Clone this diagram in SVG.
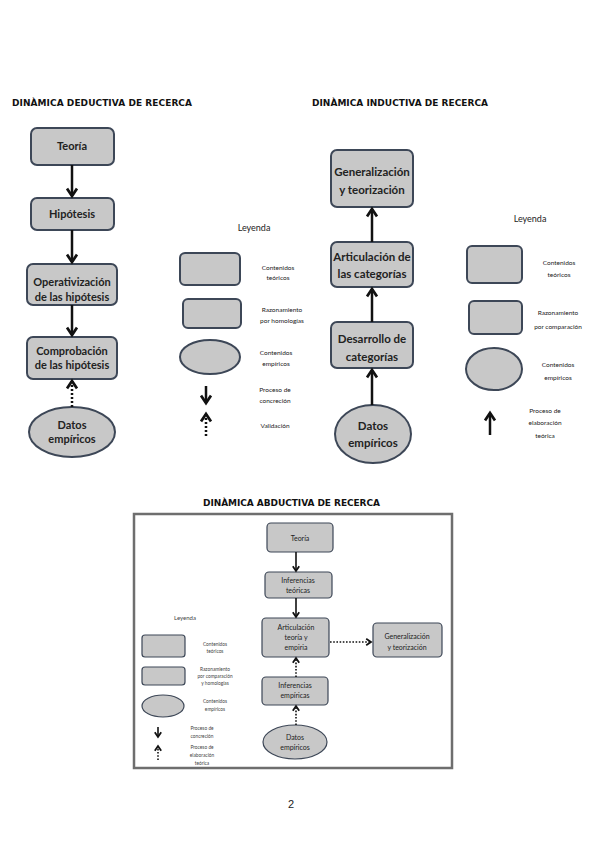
<svg xmlns="http://www.w3.org/2000/svg" width="600" height="848" viewBox="0 0 600 848">
<defs>
<style>
.title{font-family:"DejaVu Sans",sans-serif;font-weight:bold;font-size:9px;fill:#111}
.box{fill:#c8c8c8;stroke:#3d4757;stroke-width:2}
.sbox{fill:#c8c8c8;stroke:#3d4757;stroke-width:1.2}
.nt{font-family:Lato,"Liberation Sans",sans-serif;font-weight:bold;font-size:11px;fill:#222;text-anchor:middle}
.nt2{font-family:Lato,"Liberation Sans",sans-serif;font-weight:bold;font-size:11.5px;fill:#222;text-anchor:middle}
.st{font-family:Lato,"Liberation Sans",sans-serif;font-size:7px;fill:#222;text-anchor:middle}
.lt{font-family:Lato,"Liberation Sans",sans-serif;font-size:6.5px;fill:#222;text-anchor:middle}
.lg{font-family:Lato,"Liberation Sans",sans-serif;font-size:9px;fill:#222;text-anchor:middle}
.lts{font-family:Lato,"Liberation Sans",sans-serif;font-size:4.8px;fill:#444;text-anchor:middle}
.ar{stroke:#111;stroke-width:2.5;fill:none}
.ars{stroke:#111;stroke-width:1.6;fill:none}
.dot{stroke:#111;stroke-width:2.5;fill:none;stroke-dasharray:2 2}
.dots{stroke:#111;stroke-width:1.6;fill:none;stroke-dasharray:1.6 1.6}
</style>
<marker id="ah" viewBox="0 0 10 10" refX="7" refY="5" markerWidth="5" markerHeight="5" orient="auto" markerUnits="strokeWidth">
<path d="M1,1 L7,5 L1,9" fill="none" stroke="#111" stroke-width="2.2"/>
</marker>
</defs>
<rect width="600" height="848" fill="#fff"/>

<!-- Deductive -->
<text class="title" x="12" y="106" textLength="180" lengthAdjust="spacing">DINÀMICA DEDUCTIVA DE RECERCA</text>
<g id="d-teoria"><rect class="box" x="31" y="128" width="83" height="37" rx="6"/><text class="nt" x="72" y="150">Teoría</text></g>
<g id="d-hipotesis"><rect class="box" x="31" y="198" width="83" height="32" rx="6"/><text class="nt" x="72" y="218">Hipótesis</text></g>
<g id="d-operat"><rect class="box" x="27" y="264" width="90" height="41" rx="6"/><text class="nt" x="72" y="286">Operativización</text><text class="nt" x="72" y="301">de las hipótesis</text></g>
<g id="d-comprob"><rect class="box" x="27" y="337" width="90" height="42" rx="6"/><text class="nt" x="72" y="355">Comprobación</text><text class="nt" x="72" y="369">de las hipótesis</text></g>
<g id="d-datos"><ellipse class="box" cx="72" cy="432" rx="43" ry="25"/><text class="nt" x="72" y="429">Datos</text><text class="nt" x="72" y="443">empíricos</text></g>

<g id="d-legend">
<text class="lg" x="254" y="231">Leyenda</text>
<rect class="box" x="180" y="253" width="60" height="32" rx="5"/>
<text class="lt" x="278" y="270">Contenidos</text><text class="lt" x="278" y="280">teóricos</text>
<rect class="box" x="183" y="299" width="58" height="29" rx="5"/>
<text class="lt" x="282" y="312">Razonamiento</text><text class="lt" x="282" y="323">por homologías</text>
<ellipse class="box" cx="210" cy="357" rx="30" ry="17"/>
<text class="lt" x="276" y="355">Contenidos</text><text class="lt" x="276" y="366">empíricos</text>
<line class="ar" x1="206" y1="386" x2="206" y2="403" marker-end="url(#ah)"/>
<text class="lt" x="275" y="392">Proceso de</text><text class="lt" x="275" y="403">concreción</text>
<line class="dot" x1="206" y1="436" x2="206" y2="414" marker-end="url(#ah)"/>
<text class="lt" x="275" y="428">Validación</text>
</g>

<!-- Inductive -->
<text class="title" x="312" y="106" textLength="176" lengthAdjust="spacing">DINÀMICA INDUCTIVA DE RECERCA</text>
<g id="i-general"><rect class="box" x="331" y="150" width="82" height="57" rx="6"/><text class="nt2" x="372" y="176">Generalización</text><text class="nt2" x="372" y="194">y teorización</text></g>
<g id="i-artic"><rect class="box" x="331" y="242" width="82" height="45" rx="6"/><text class="nt2" x="372" y="261">Articulación de</text><text class="nt2" x="372" y="278">las categorías</text></g>
<g id="i-desarr"><rect class="box" x="331" y="322" width="82" height="46" rx="6"/><text class="nt2" x="372" y="343">Desarrollo de</text><text class="nt2" x="372" y="361">categorías</text></g>
<g id="i-datos"><ellipse class="box" cx="373" cy="434" rx="38" ry="29"/><text class="nt2" x="373" y="430">Datos</text><text class="nt2" x="373" y="447">empíricos</text></g>

<g id="i-legend">
<text class="lg" x="530" y="222">Leyenda</text>
<rect class="box" x="467" y="246" width="55" height="37" rx="5"/>
<text class="lt" x="559" y="265">Contenidos</text><text class="lt" x="559" y="277">teóricos</text>
<rect class="box" x="469" y="301" width="53" height="33" rx="5"/>
<text class="lt" x="558" y="315">Razonamiento</text><text class="lt" x="558" y="329">por comparación</text>
<ellipse class="box" cx="494" cy="369" rx="28" ry="21"/>
<text class="lt" x="558" y="367">Contenidos</text><text class="lt" x="558" y="380">empíricos</text>
<line class="ar" x1="490" y1="435" x2="490" y2="413" marker-end="url(#ah)"/>
<text class="lt" x="545" y="413">Proceso de</text><text class="lt" x="545" y="425">elaboración</text><text class="lt" x="545" y="438">teórica</text>
</g>

<!-- Abductive -->
<text class="title" x="203" y="506" textLength="177" lengthAdjust="spacing">DINÀMICA ABDUCTIVA DE RECERCA</text>
<rect x="134" y="514" width="318" height="254" fill="#fff" stroke="#6e6e6e" stroke-width="2.5"/>
<g id="a-teoria"><rect class="sbox" x="267" y="523" width="66" height="29" rx="4"/><text class="st" x="300" y="541">Teoría</text></g>
<g id="a-infteor"><rect class="sbox" x="265" y="572" width="67" height="26" rx="4"/><text class="st" x="298" y="583">Inferencias</text><text class="st" x="298" y="593">teóricas</text></g>
<g id="a-artic"><rect class="sbox" x="262" y="618" width="67" height="39" rx="4"/><text class="st" x="296" y="630">Articulación</text><text class="st" x="296" y="640">teoría y</text><text class="st" x="296" y="650">empiria</text></g>
<g id="a-general"><rect class="sbox" x="373" y="623" width="69" height="34" rx="4"/><text class="st" x="407" y="639">Generalización</text><text class="st" x="407" y="650">y teorización</text></g>
<g id="a-infemp"><rect class="sbox" x="262" y="677" width="66" height="28" rx="4"/><text class="st" x="295" y="688">Inferencias</text><text class="st" x="295" y="698">empíricas</text></g>
<g id="a-datos"><ellipse class="sbox" cx="295" cy="742" rx="32" ry="17"/><text class="st" x="295" y="740">Datos</text><text class="st" x="295" y="750">empíricos</text></g>

<g id="a-legend">
<text class="lts" x="185" y="620" style="font-size:6px">Leyenda</text>
<rect class="sbox" x="142" y="635" width="43" height="22" rx="3"/>
<text class="lts" x="215" y="646">Contenidos</text><text class="lts" x="215" y="653">teóricos</text>
<rect class="sbox" x="142" y="667" width="43" height="18" rx="3"/>
<text class="lts" x="215" y="671">Razonamiento</text><text class="lts" x="215" y="678">por comparación</text><text class="lts" x="215" y="685">y homologías</text>
<ellipse class="sbox" cx="163" cy="706" rx="21" ry="11"/>
<text class="lts" x="215" y="703">Contenidos</text><text class="lts" x="215" y="711">empíricos</text>
<line class="ars" x1="158" y1="727" x2="158" y2="737" marker-end="url(#ah)"/>
<text class="lts" x="202" y="730">Proceso de</text><text class="lts" x="202" y="738">concreción</text>
<line class="dots" x1="158" y1="760" x2="158" y2="746" marker-end="url(#ah)"/>
<text class="lts" x="202" y="749">Proceso de</text><text class="lts" x="202" y="757">elaboración</text><text class="lts" x="202" y="765">teórica</text>
</g>

<g id="connectors">
<line class="ar" x1="72" y1="165" x2="72" y2="196" marker-end="url(#ah)"/>
<line class="ar" x1="72" y1="230" x2="72" y2="262" marker-end="url(#ah)"/>
<line class="ar" x1="72" y1="305" x2="72" y2="335" marker-end="url(#ah)"/>
<line class="dot" x1="72" y1="407" x2="72" y2="381" marker-end="url(#ah)"/>
<line class="ar" x1="372" y1="242" x2="372" y2="209" marker-end="url(#ah)"/>
<line class="ar" x1="372" y1="322" x2="372" y2="289" marker-end="url(#ah)"/>
<line class="ar" x1="372" y1="405" x2="372" y2="370" marker-end="url(#ah)"/>
<line class="ars" x1="296" y1="552" x2="296" y2="571" marker-end="url(#ah)"/>
<line class="ars" x1="296" y1="598" x2="296" y2="617" marker-end="url(#ah)"/>
<line class="dots" x1="330" y1="642" x2="371" y2="642" marker-end="url(#ah)"/>
<line class="dots" x1="296" y1="677" x2="296" y2="658" marker-end="url(#ah)"/>
<line class="dots" x1="296" y1="725" x2="296" y2="706" marker-end="url(#ah)"/>
</g>

<text x="291" y="808" style="font-family:'Liberation Sans',sans-serif;font-size:11px;fill:#222" text-anchor="middle">2</text>
</svg>
